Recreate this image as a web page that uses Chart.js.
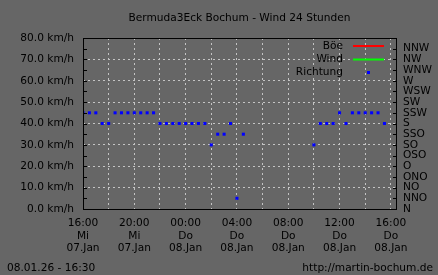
<!DOCTYPE html>
<html>
<head>
<meta charset="utf-8">
<script src="https://cdn.jsdelivr.net/npm/chart.js@4/dist/chart.umd.min.js"></script>
<style>
  html, body { margin: 0; padding: 0; background: #666666; }
  #wrap { width: 438px; height: 275px; }
</style>
</head>
<body>
<div id="wrap"><canvas id="c" width="438" height="275"></canvas></div>
<script>
// ---- data ----
const chartTitle = 'Bermuda3Eck Bochum - Wind 24 Stunden';
const footerLeft = '08.01.26 - 16:30';
const footerRight = 'http://martin-bochum.de';
const directionLabels = ['N','NNO','NO','ONO','O','OSO','SO','SSO','S','SSW','SW','WSW','W','WNW','NW','NNW'];
const speedTicks = [0, 10, 20, 30, 40, 50, 60, 70, 80];
const xTickHours = [0, 4, 8, 12, 16, 20, 24];
const xTickLabels = [
  ['16:00', 'Mi', '07.Jan'],
  ['20:00', 'Mi', '07.Jan'],
  ['00:00', 'Do', '08.Jan'],
  ['04:00', 'Do', '08.Jan'],
  ['08:00', 'Do', '08.Jan'],
  ['12:00', 'Do', '08.Jan'],
  ['16:00', 'Do', '08.Jan']
];
const legendNames = ['Böe', 'Wind', 'Richtung'];
// times (hours since Mi 07.Jan 16:00) and wind direction of each sample
const richtungHours = [0, 0.5, 1, 1.5, 2, 2.5, 3, 3.5, 4, 4.5, 5, 5.5, 6, 6.5, 7, 7.5, 8, 8.5, 9, 9.5, 10, 10.5, 11, 11.5, 12, 12.5,
                       18, 18.5, 19, 19.5, 20, 20.5, 21, 21.5, 22, 22.5, 23, 23.5];
const richtungDirs  = ['SSW','SSW','SSW','S','S','SSW','SSW','SSW','SSW','SSW','SSW','SSW','S','S','S','S','S','S','S','S','SO','SSO','SSO','S','NNO','SSO',
                       'SO','S','S','S','SSW','S','SSW','SSW','SSW','SSW','SSW','S'];
const boeValues = [];   // no gust line visible in the picture
const windValues = [];  // no wind line visible in the picture

// ---- build ----
const FONT = 'DejaVu Sans';
const FS = 10.6;
const dirToValue = d => directionLabels.indexOf(d) * 5;
const richtungPoints = richtungHours.map((h, i) => ({ x: h, y: dirToValue(richtungDirs[i]) }));

const decor = {
  id: 'decor',
  beforeDraw(chart) {
    const ctx = chart.ctx;
    ctx.save();
    ctx.fillStyle = '#666666';
    ctx.fillRect(0, 0, chart.width, chart.height);
    ctx.restore();
  },
  afterDraw(chart) {
    const ctx = chart.ctx;
    const a = chart.chartArea;
    const yL = chart.scales.y, yR = chart.scales.y2;
    ctx.save();
    // frame
    ctx.strokeStyle = '#000';
    ctx.lineWidth = 1;
    ctx.setLineDash([]);
    ctx.strokeRect(a.left + 0.5, a.top + 0.5, a.right - a.left, a.bottom - a.top);
    // inward ticks every 5 units on both sides
    ctx.beginPath();
    for (let v = 0; v <= 80; v += 5) {
      const py = Math.round(yL.getPixelForValue(v)) + 0.5;
      ctx.moveTo(a.left, py); ctx.lineTo(a.left + 4, py);
      const pr = Math.round(yR.getPixelForValue(v)) + 0.5;
      ctx.moveTo(a.right + 1, pr); ctx.lineTo(a.right - 3, pr);
    }
    ctx.stroke();
    // title
    ctx.fillStyle = '#000';
    ctx.font = FS + 'px "' + FONT + '"';
    ctx.textBaseline = 'middle';
    ctx.textAlign = 'center';
    ctx.fillText(chartTitle, (a.left + a.right) / 2, 18);
    // footer
    ctx.textAlign = 'left';
    ctx.fillText(footerLeft, 7, 268);
    ctx.textAlign = 'right';
    ctx.fillText(footerRight, 433, 268);
    // legend
    const rows = [46, 59.5, 72];
    ctx.textAlign = 'right';
    legendNames.forEach((n, i) => ctx.fillText(n, 343, rows[i]));
    ctx.lineWidth = 2;
    ctx.strokeStyle = '#ff0000';
    ctx.beginPath(); ctx.moveTo(353, rows[0]); ctx.lineTo(384, rows[0]); ctx.stroke();
    ctx.strokeStyle = '#00ff00';
    ctx.beginPath(); ctx.moveTo(353, rows[1]); ctx.lineTo(384, rows[1]); ctx.stroke();
    ctx.fillStyle = '#0000ff';
    ctx.fillRect(367, 71, 3, 3);
    ctx.restore();
  }
};

new Chart(document.getElementById('c'), {
  type: 'scatter',
  data: {
    datasets: [
      { label: legendNames[0], type: 'line', data: boeValues, borderColor: '#ff0000', borderWidth: 1, pointRadius: 0 },
      { label: legendNames[1], type: 'line', data: windValues, borderColor: '#00ff00', borderWidth: 1, pointRadius: 0 },
      { label: legendNames[2], data: richtungPoints, yAxisID: 'y2', backgroundColor: '#0000ff', borderWidth: 0,
        pointStyle: 'rect', pointRadius: 2.15, pointHoverRadius: 2.15 }
    ]
  },
  options: {
    responsive: false,
    animation: false,
    devicePixelRatio: 1,
    layout: { padding: { top: 38, left: 0, right: 0, bottom: 0 } },
    plugins: { legend: { display: false }, title: { display: false }, tooltip: { enabled: false } },
    scales: {
      x: {
        type: 'linear', position: 'bottom', min: 0, max: 24.4,
        afterBuildTicks: s => { s.ticks = []; for (let h = 0; h <= 24; h += 2) s.ticks.push({ value: h }); },
        afterFit: s => { s.height = 66; },
        ticks: {
          autoSkip: false, maxRotation: 0, color: '#000', padding: 8,
          font: { family: FONT, size: FS, lineHeight: 1.18 },
          callback: v => { const i = xTickHours.indexOf(v); return i >= 0 ? xTickLabels[i] : ''; }
        },
        grid: { color: '#c4c4c4', drawTicks: false, lineWidth: 1 },
        border: { display: false, dash: [2, 3] }
      },
      y: {
        position: 'left', min: 0, max: 80,
        afterBuildTicks: s => { s.ticks = speedTicks.map(v => ({ value: v })); },
        afterFit: s => { s.width = 83; },
        ticks: { autoSkip: false, color: '#000', padding: 9, font: { family: FONT, size: FS },
                 callback: v => v.toFixed(1) + ' km/h' },
        grid: { color: '#c4c4c4', drawTicks: false, lineWidth: 1 },
        border: { display: false, dash: [2, 3] }
      },
      y2: {
        position: 'right', min: 0, max: 80,
        afterBuildTicks: s => { s.ticks = directionLabels.map((d, i) => ({ value: i * 5 })); },
        afterFit: s => { s.width = 42; },
        ticks: { autoSkip: false, color: '#000', padding: 7, font: { family: FONT, size: FS },
                 callback: v => directionLabels[Math.round(v / 5)] },
        grid: { display: false, drawTicks: false },
        border: { display: false }
      }
    }
  },
  plugins: [decor]
});
</script>
</body>
</html>
